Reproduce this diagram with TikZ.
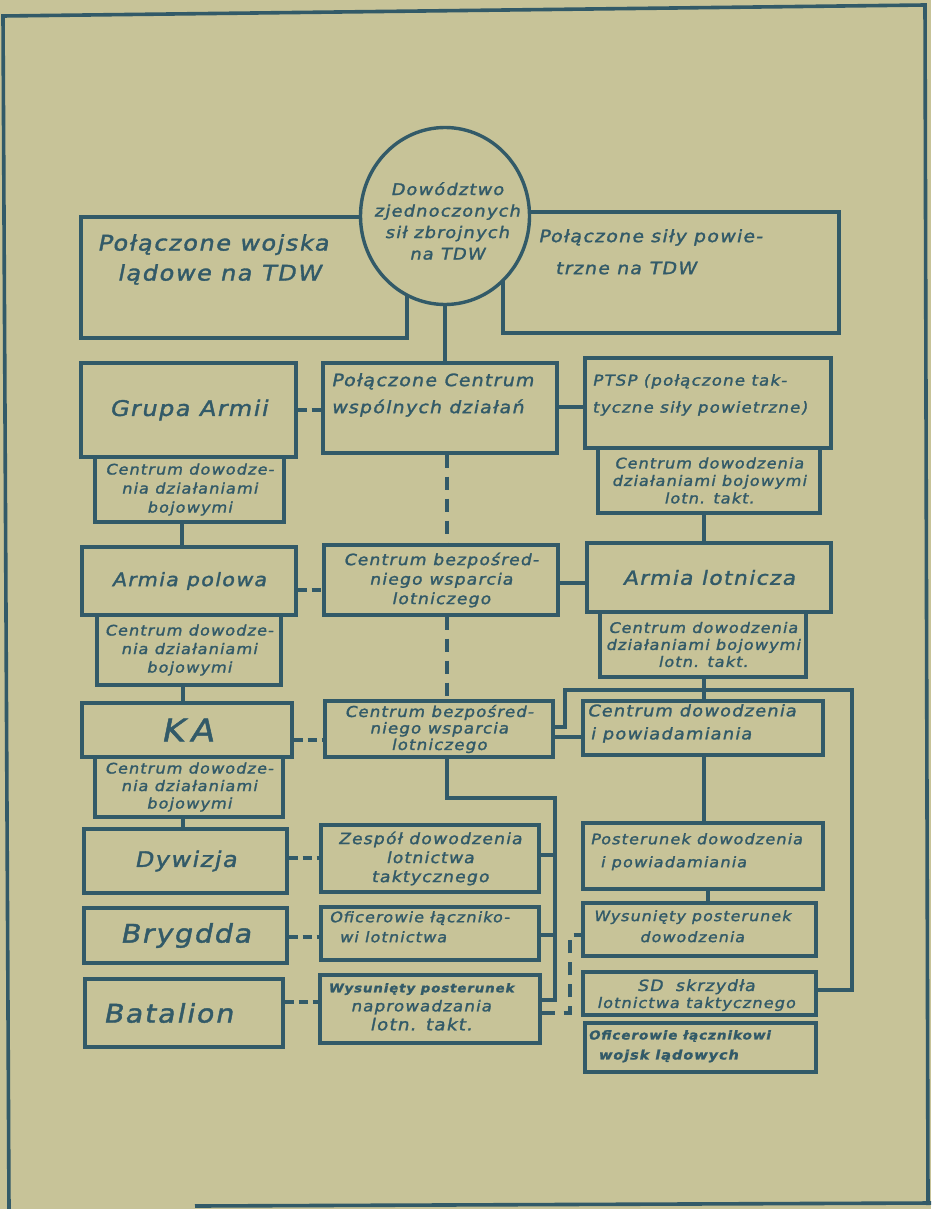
\documentclass[tikz,border=0pt]{standalone}
\usepackage{fontspec}
\setmainfont{DejaVu Sans}[FakeStretch=1.12, FakeSlant=0.2, LetterSpace=7, FakeBold=1.6]
\usetikzlibrary{shapes.geometric}
\definecolor{paper}{RGB}{199,195,152}
\definecolor{ink}{RGB}{50,90,104}
\newcommand{\fsz}[2]{\fontsize{#1}{#2}\selectfont}
\newcommand{\mybox}[7][]{\node[box,minimum width={(#4-#2)*1pt},minimum height={(#5-#3)*1pt},#1] (#6) at ({(#2+#4)/2},{(#3+#5)/2}) {#7};}
\tikzset{
  box/.style={draw=ink, line width=3.4pt, inner sep=0pt, text=ink, align=center},
  txt/.style={text=ink, inner sep=0pt, align=left},
  ln/.style={draw=ink, line width=3.2pt},
  hdsh/.style={ln, dash pattern=on 9pt off 5pt},
  vdsh/.style={ln, dash pattern=on 13pt off 9pt},
  frame/.style={draw=ink, line width=3.6pt}
}
\begin{document}
\begin{tikzpicture}[x=1pt,y=-1pt]
\fill[paper] (0,0) rectangle (931,1209);
\useasboundingbox (0,0) rectangle (931,1209);
% frame
\draw[frame] (9,1209) -- (3,16) -- (925,5) -- (928,1205);
\draw[frame] (195,1206) -- (931,1203);

% top level
\mybox{81}{217}{407}{338}{lw}{}
\mybox{503}{212}{839}{333}{rs}{}
\node[draw=ink, line width=3.4pt, fill=paper, ellipse, minimum width=169pt, minimum height=177pt, inner sep=0pt] (el) at (445,216) {};
\node[txt, align=center, font=\fsz{16}{21.5}] (elt) at (447,221) {Dowództwo\\zjednoczonych\\sił zbrojnych\\na TDW};
\node[txt, anchor=north west, font=\fsz{21.5}{30}] (lwt) at (97,234) {Połączone wojska\\\hspace*{20pt}lądowe na TDW};
\node[txt, anchor=north west, font=\fsz{17}{32}] (rst) at (538,229) {Połączone siły powie-\\\hspace*{17pt}trzne na TDW};

% row 2
\mybox[font=\fsz{21.5}{25}]{81}{363}{296}{457}{ga}{Grupa Armii}
\mybox[font=\fsz{14.5}{19}]{95}{457}{284}{522}{gas}{Centrum dowodze-\\nia działaniami\\bojowymi}
\mybox{323}{363}{557}{453}{pc}{}
\node[txt, anchor=north west, font=\fsz{17}{27}] (pct) at (331,373) {Połączone Centrum\\wspólnych działań};
\mybox{585}{358}{831}{448}{ptsp}{}
\node[txt, anchor=north west, font=\fsz{15}{27}] (ptspt) at (592,374) {PTSP (połączone tak-\\tyczne siły powietrzne)};
\mybox[font=\fsz{14.5}{17.5}]{598}{448}{820}{513}{ptsps}{Centrum dowodzenia\\działaniami bojowymi\\lotn. takt.}

% row 3
\mybox[font=\fsz{18.5}{21}]{82}{547}{296}{615}{ap}{Armia polowa}
\mybox[font=\fsz{14.5}{18.5}]{97}{615}{281}{685}{aps}{Centrum dowodze-\\nia działaniami\\bojowymi}
\mybox[font=\fsz{15.5}{19.5}]{324}{545}{558}{615}{cb1}{Centrum bezpośred-\\niego wsparcia\\lotniczego}
\mybox[font=\fsz{19.5}{22}]{587}{543}{831}{612}{al}{Armia lotnicza}
\mybox[font=\fsz{14.5}{17}]{600}{612}{806}{677}{als}{Centrum dowodzenia\\działaniami bojowymi\\lotn. takt.}

% row 4
\mybox[font=\fsz{31}{34}]{82}{703}{292}{757}{ka}{K\hspace{6pt}A}
\mybox[font=\fsz{14.5}{17.5}]{95}{757}{283}{817}{kas}{Centrum dowodze-\\nia działaniami\\bojowymi}
\mybox[font=\fsz{15}{16.5}]{325}{701}{553}{757}{cb2}{Centrum bezpośred-\\niego wsparcia\\lotniczego}
\mybox{583}{701}{823}{755}{cdp}{}
\node[txt, anchor=north west, font=\fsz{16}{23}] (cdpt) at (587,704) {Centrum dowodzenia\\\hspace*{3pt}i powiadamiania};

% row 5
\mybox[font=\fsz{21.5}{24}]{84}{829}{287}{893}{dy}{Dywizja}
\mybox[font=\fsz{15.5}{19}]{321}{825}{539}{892}{zd}{Zespół dowodzenia\\lotnictwa\\taktycznego}
\mybox{583}{823}{823}{889}{pdp}{}
\node[txt, anchor=north west, font=\fsz{14.5}{23}] (pdpt) at (590,833) {Posterunek dowodzenia\\\hspace*{10pt}i powiadamiania};

% row 6
\mybox[font=\fsz{25.5}{28}]{84}{908}{287}{963}{br}{Brygdda}
\mybox{321}{907}{539}{960}{ol}{}
\node[txt, anchor=north west, font=\fsz{14.5}{20}] (olt) at (329,911) {Oficerowie łączniko-\\\hspace*{10pt}wi lotnictwa};
\mybox{583}{903}{816}{956}{wpd}{}
\node[txt, align=center, anchor=north, font=\fsz{14.3}{21}] (wpdt) at (692,910) {Wysunięty posterunek\\dowodzenia};

% row 7
\mybox{85}{979}{283}{1047}{bat}{}
\node[txt, anchor=west, font=\fsz{25.5}{28}] (batt) at (103,1013) {Batalion};
\mybox{320}{975}{540}{1043}{wpn}{}
\node[txt, align=center, anchor=north, font=\fsz{15}{19}] (wpnt) at (421,983) {{\bfseries\fontsize{12}{19}\selectfont Wysunięty posterunek}\\naprowadzania\\{\fontsize{16.5}{19}\selectfont lotn. takt.}};
\mybox{583}{972}{816}{1015}{sd}{}
\node[txt, align=center, anchor=north, font=\fsz{14.5}{17}] (sdt) at (696,979) {{\fontsize{15.5}{17}\selectfont SD\hspace{6pt} skrzydła}\\lotnictwa taktycznego};
\mybox{585}{1023}{816}{1072}{olw}{}
\node[txt, anchor=north west, font=\bfseries\fsz{12.2}{20}] (olwt) at (588,1030) {Oficerowie łącznikowi\\\hspace*{10pt}{\fontsize{13}{20}\selectfont wojsk lądowych}};

% connectors
\draw[ln] (el.south) -- (el.south |- pc.north);
\draw[hdsh] (ga.east |- 0,410) -- (pc.west |- 0,410);
\draw[ln] (pc.east |- 0,407) -- (ptsp.west |- 0,407);
\draw[vdsh] (pc.south -| 447,0) -- (cb1.north -| 447,0);
\draw[ln] (gas.south -| 182,0) -- (ap.north -| 182,0);
\draw[ln] (ptsps.south -| 704,0) -- (al.north -| 704,0);
\draw[hdsh] (ap.east |- 0,590) -- (cb1.west |- 0,590);
\draw[ln] (cb1.east |- 0,583) -- (al.west |- 0,583);
\draw[ln] (aps.south -| 183,0) -- (ka.north -| 183,0);
\draw[vdsh] (cb1.south -| 447,0) -- (cb2.north -| 447,0);
\draw[ln] (als.south -| 704,0) -- (cdp.north -| 704,0);
\draw[hdsh] (ka.east |- 0,740) -- (cb2.west |- 0,740);
\draw[ln] (cb2.east |- 0,737) -- (cdp.west |- 0,737);
\draw[ln] (cb2.east |- 0,727) -| (565,690) -| (852,990) -- (sd.east |- 0,990);
\draw[ln] (cdp.south -| 704,0) -- (pdp.north -| 704,0);
\draw[ln] (pdp.south -| 708,0) -- (wpd.north -| 708,0);
\draw[ln] (kas.south -| 183,0) -- (dy.north -| 183,0);
\draw[hdsh] (dy.east |- 0,858) -- (zd.west |- 0,858);
\draw[hdsh] (br.east |- 0,937) -- (ol.west |- 0,937);
\draw[hdsh] (bat.east |- 0,1002) -- (wpn.west |- 0,1002);
\coordinate (trA) at (555,855);
\coordinate (trB) at (555,935);
\draw[ln] (cb2.south -| 447,0) |- (555,798) -- (555,1000) -- (wpn.east |- 0,1000);
\draw[ln] (zd.east |- trA) -- (trA);
\draw[ln] (ol.east |- trB) -- (trB);
\draw[vdsh] (wpn.east |- 0,1013) -| (570,935) -- (wpd.west |- 0,935);
\end{tikzpicture}
\end{document}
